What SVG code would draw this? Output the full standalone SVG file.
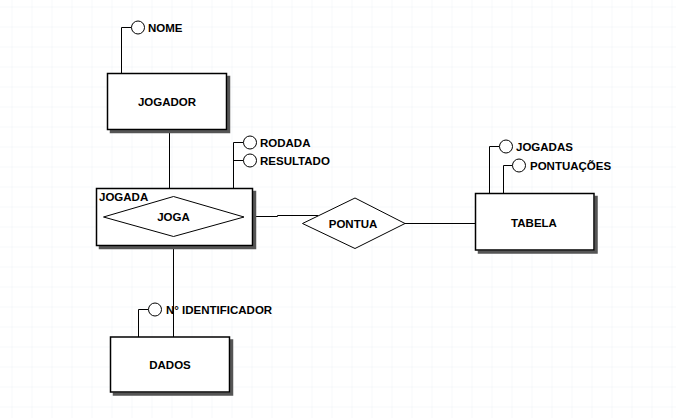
<svg xmlns="http://www.w3.org/2000/svg" width="676" height="418" viewBox="0 0 676 418">
<defs>
<pattern id="grid" x="11.5" y="6.5" width="20" height="20" patternUnits="userSpaceOnUse">
<path d="M0 0H20M0 0V20" fill="none" stroke="#edf1f5" stroke-width="1"/>
</pattern>
<filter id="sh" x="-5%" y="-5%" width="115%" height="120%">
<feOffset dx="2.5" dy="2.5" in="SourceAlpha" result="o"/>
<feFlood flood-color="#555"/>
<feComposite in2="o" operator="in" result="s"/>
<feMerge><feMergeNode in="s"/><feMergeNode in="SourceGraphic"/></feMerge>
</filter>
</defs>
<style>
.box{fill:#fff;stroke:#000;stroke-width:1.5}
.dia{fill:#fff;stroke:#000;stroke-width:1}
.ln{fill:none;stroke:#000;stroke-width:1}
.att{fill:#fff;stroke:#000;stroke-width:1}
.t{font-family:"Liberation Sans",Arial,sans-serif;font-weight:bold;font-size:11.5px;fill:#000}
.c{text-anchor:middle}
</style>
<rect width="676" height="418" fill="#fff"/>
<rect width="676" height="418" fill="url(#grid)"/>
<g id="connectors">
<path class="ln" d="M169.5 130V188"/>
<path class="ln" d="M173.5 246V337"/>
<path class="ln" d="M253 216.5H277.5V215.5H318"/>
<path class="ln" d="M405 223.5H475.5"/>
</g>
<g id="jogador">
<path class="ln" d="M121.5 73.5V27.5H131.5"/>
<circle class="att" cx="138" cy="27.5" r="6.5"/>
<text class="t" x="148" y="31.5">NOME</text>
<rect class="box" x="107.5" y="73.5" width="119" height="56" filter="url(#sh)"/>
<text class="t c" x="167" y="106">JOGADOR</text>
</g>
<g id="jogada">
<path class="ln" d="M233.5 188V142.5H243.5M233.5 160.5H243.5"/>
<circle class="att" cx="250" cy="142.5" r="6.5"/>
<circle class="att" cx="250" cy="160.5" r="6.5"/>
<text class="t" x="260" y="146.5">RODADA</text>
<text class="t" x="260" y="164.5">RESULTADO</text>
<rect class="box" x="96.5" y="188.5" width="156" height="57" filter="url(#sh)"/>
<text class="t" x="99" y="201">JOGADA</text>
<polygon class="dia" points="103.5,217 173.5,196.5 244,217 173.5,236.5"/>
<text class="t c" x="173.5" y="221">JOGA</text>
</g>
<g id="pontua">
<polygon class="dia" points="302.5,223.5 355,198 405,223.5 355,248.5"/>
<text class="t c" x="353" y="228">PONTUA</text>
</g>
<g id="tabela">
<path class="ln" d="M489.5 193.5V146.5H499.5M503.5 193.5V165.5H512.5"/>
<circle class="att" cx="506" cy="146.5" r="6.5"/>
<circle class="att" cx="519" cy="165.5" r="6.5"/>
<text class="t" x="516" y="150.5">JOGADAS</text>
<text class="t" x="530" y="169.5">PONTUAÇÕES</text>
<rect class="box" x="475.5" y="193.5" width="118.5" height="56.5" filter="url(#sh)"/>
<text class="t c" x="534" y="227">TABELA</text>
</g>
<g id="dados">
<path class="ln" d="M138.5 337V309.5H148.5"/>
<circle class="att" cx="155" cy="309.5" r="6.5"/>
<text class="t" x="166" y="313.5">N° IDENTIFICADOR</text>
<rect class="box" x="110.5" y="337" width="119" height="55" filter="url(#sh)"/>
<text class="t c" x="170" y="369">DADOS</text>
</g>
</svg>
